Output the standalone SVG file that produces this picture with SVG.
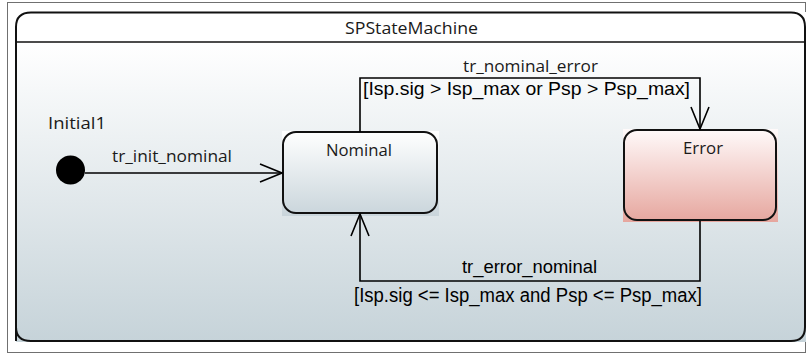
<svg xmlns="http://www.w3.org/2000/svg" width="807" height="355" viewBox="0 0 807 355">
  <defs>
    <linearGradient id="gFrame" x1="0" y1="0" x2="0" y2="1">
      <stop offset="0" stop-color="#ffffff"/>
      <stop offset="1" stop-color="#c6d3d9"/>
    </linearGradient>
    <linearGradient id="gNominal" x1="0" y1="0" x2="0" y2="1">
      <stop offset="0" stop-color="#ffffff"/>
      <stop offset="1" stop-color="#c9d5db"/>
    </linearGradient>
    <linearGradient id="gError" x1="0" y1="0" x2="0" y2="1">
      <stop offset="0" stop-color="#fffafa"/>
      <stop offset="1" stop-color="#e6a69e"/>
    </linearGradient>
    <marker id="open" viewBox="0 0 24 20" refX="23" refY="10" markerWidth="24" markerHeight="20" markerUnits="userSpaceOnUse" orient="auto">
      <path d="M1,1 L23,10 L1,19" fill="none" stroke="#000" stroke-width="1.6"/>
    </marker>
    <style>
      .ui { font-family: "Open Sans", "Noto Sans", sans-serif; fill: #1a1a1a; font-size: 17px; }
      .guard { font-family: "Liberation Sans", Arial, sans-serif; fill: #000; }
      .edge { fill: none; stroke: #000; stroke-width: 1.6; }
      .box { stroke: #111; stroke-width: 2; }
    </style>
  </defs>
  <rect x="0" y="0" width="807" height="355" fill="#ffffff"/>
  <rect x="7.5" y="2.5" width="798" height="350" fill="none" stroke="#707070" stroke-width="1"/>

  <g id="SPStateMachine">
    <rect x="16" y="42" width="790" height="300" fill="url(#gFrame)"/>
    <rect x="16" y="12" width="790" height="30" fill="#ffffff"/>
    <path d="M16,341 L16,27 Q16,12.5 31,12.5 L791,12.5 Q805,12.5 805,27 L805,327 Q805,341 791,341 L31,341 Q16,341 16,327" class="box" fill="none"/>
    <line x1="16" y1="42" x2="805" y2="42" stroke="#111" stroke-width="1.5"/>
    <text class="ui" x="345" y="34" textLength="133" lengthAdjust="spacingAndGlyphs">SPStateMachine</text>
  </g>

  <g id="Initial1">
    <circle cx="70.5" cy="170" r="14.5" fill="#000"/>
    <text class="ui" x="48" y="129" textLength="58" lengthAdjust="spacingAndGlyphs">Initial1</text>
  </g>

  <g id="Nominal">
    <rect x="282" y="131" width="157" height="85" fill="url(#gNominal)"/>
    <rect x="283" y="132" width="154" height="81" rx="13" ry="13" fill="none" class="box"/>
    <text class="ui" x="326" y="156" textLength="66" lengthAdjust="spacingAndGlyphs">Nominal</text>
  </g>

  <g id="Error">
    <rect x="623" y="129" width="155" height="93" fill="url(#gError)"/>
    <rect x="624" y="130" width="152" height="90" rx="13" ry="13" fill="none" class="box"/>
    <text class="ui" x="683" y="154" textLength="40" lengthAdjust="spacingAndGlyphs">Error</text>
  </g>

  <g id="connectors">
    <g id="tr_init_nominal">
      <line x1="85" y1="173" x2="282" y2="173" class="edge" marker-end="url(#open)"/>
      <text class="ui" x="112" y="162" textLength="120" lengthAdjust="spacingAndGlyphs">tr_init_nominal</text>
    </g>
    <g id="tr_nominal_error">
      <polyline points="360,132 360,78 700,78 700,129" class="edge" marker-end="url(#open)"/>
      <text class="ui" x="463" y="72" textLength="135" lengthAdjust="spacingAndGlyphs">tr_nominal_error</text>
      <text class="guard" x="363" y="95" font-size="19" textLength="327" lengthAdjust="spacingAndGlyphs">[Isp.sig &gt; Isp_max or Psp &gt; Psp_max]</text>
    </g>
    <g id="tr_error_nominal">
      <polyline points="700,221 700,281 360,281 360,214" class="edge" marker-end="url(#open)"/>
      <text class="guard" x="462" y="273" font-size="19" textLength="135" lengthAdjust="spacingAndGlyphs">tr_error_nominal</text>
      <text class="guard" x="354" y="302" font-size="20" textLength="348" lengthAdjust="spacingAndGlyphs">[Isp.sig &lt;= Isp_max and Psp &lt;= Psp_max]</text>
    </g>
  </g>
</svg>
